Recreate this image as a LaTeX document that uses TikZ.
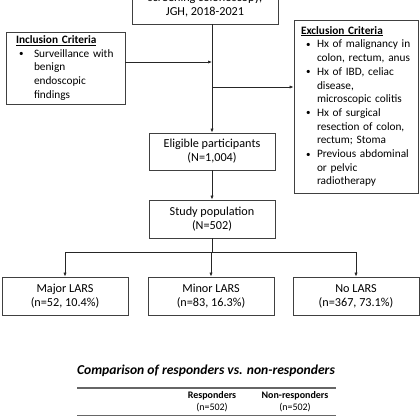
\documentclass[tikz,border=0pt]{standalone}
\usepackage{fontspec}
\setmainfont{Carlito}
\usetikzlibrary{arrows.meta}
\newcommand{\smbul}{\makebox[0pt][l]{\raisebox{0.5pt}{\fontsize{9}{9}\selectfont\textbullet}}}
\begin{document}
\begin{tikzpicture}[x=1pt,y=-1pt,
  box/.style={draw=black!75, line width=0.8pt, fill=white, align=center,
    font=\fontsize{12.2}{13.8}\selectfont, inner sep=0pt},
  lbox/.style={box, align=left, inner ysep=0pt, font=\fontsize{11.3}{13.7}\selectfont},
  arr/.style={-{Latex[length=4pt,width=3.2pt]}, line width=0.7pt, draw=black!85},
  ln/.style={line width=0.7pt, draw=black!85},
  rule/.style={line width=1.1pt, draw=black!60},
  hdr/.style={font=\fontsize{10}{12}\selectfont, align=center, inner sep=0pt}]
\useasboundingbox (0,0) rectangle (420,420);
\fill[white] (0,0) rectangle (420,420);

% flow boxes
\node[box, minimum width=146, minimum height=38] (top) at (205,5)
  {screening colonoscopy,\\JGH, 2018-2021};
\node[lbox, minimum width=119, minimum height=72, text width=105, inner xsep=7] (incl) at (65.5,68)
  {\mbox{\hspace*{3pt}\underline{\textbf{Inclusion Criteria}}}\\
   \mbox{\hspace*{6pt}\smbul\hspace*{15pt}Surveillance with}\\
   \mbox{\hspace*{21pt}benign}\\
   \mbox{\hspace*{21pt}endoscopic}\\
   \mbox{\hspace*{21pt}findings}};
\node[lbox, minimum width=124, minimum height=173, text width=116, inner xsep=4] (excl) at (356,106.5)
  {\mbox{\hspace*{3pt}\underline{\textbf{Exclusion Criteria}}}\\
   \mbox{\hspace*{8pt}\smbul\hspace*{11pt}Hx of malignancy in}\\
   \mbox{\hspace*{19pt}colon, rectum, anus}\\
   \mbox{\hspace*{8pt}\smbul\hspace*{11pt}Hx of IBD, celiac}\\
   \mbox{\hspace*{19pt}disease,}\\
   \mbox{\hspace*{19pt}microscopic colitis}\\
   \mbox{\hspace*{8pt}\smbul\hspace*{11pt}Hx of surgical}\\
   \mbox{\hspace*{19pt}resection of colon,}\\
   \mbox{\hspace*{19pt}rectum; Stoma}\\
   \mbox{\hspace*{8pt}\smbul\hspace*{11pt}Previous abdominal}\\
   \mbox{\hspace*{19pt}or pelvic}\\
   \mbox{\hspace*{19pt}radiotherapy}};
\node[box, minimum width=126, minimum height=37] (elig) at (212,151.5)
  {Eligible participants\\(N=1,004)};
\node[box, minimum width=126, minimum height=38] (study) at (212,219)
  {Study population\\(N=502)};
\node[box, minimum width=126, minimum height=38] (major) at (65,296)
  {Major LARS\\(n=52, 10.4\%)};
\node[box, minimum width=126, minimum height=38] (minor) at (211,296)
  {Minor LARS\\(n=83, 16.3\%)};
\node[box, minimum width=126, minimum height=38] (nolars) at (356,296)
  {No LARS\\(n=367, 73.1\%)};

% connectors
\coordinate (j1) at (212,62);
\coordinate (j2) at (212,87);
\coordinate (br) at (212,252);
\draw[arr] (top.south -| elig.north) -- (elig.north);
\draw[arr] (incl.east |- j1) -- (j1);
\draw[arr] (j2) -- (excl.west |- j2);
\draw[arr] (elig.south) -- (study.north);
\draw[ln] (study.south) -- (br);
\draw[ln] (major.north |- br) -- (nolars.north |- br);
\draw[arr] (major.north |- br) -- (major.north);
\draw[arr] (minor.north |- br) -- (minor.north);
\draw[arr] (nolars.north |- br) -- (nolars.north);

% comparison table
\node[font=\fontsize{13.6}{16}\selectfont\bfseries\itshape, inner sep=0pt] (ttl) at (206,371)
  {Comparison of responders vs. non-responders};
\coordinate (r1a) at (77,388);
\coordinate (r1b) at (336,388);
\coordinate (r2a) at (77,415);
\coordinate (r2b) at (336,415);
\draw[rule] (r1a) -- (r1b);
\draw[rule, line width=0.9pt] (r2a) -- (r2b);
\node[hdr] (resp) at (212,401.5) {\textbf{Responders}\\(n=502)};
\node[hdr] (nonresp) at (295,401.5) {\textbf{Non-responders}\\(n=502)};
\end{tikzpicture}
\end{document}
